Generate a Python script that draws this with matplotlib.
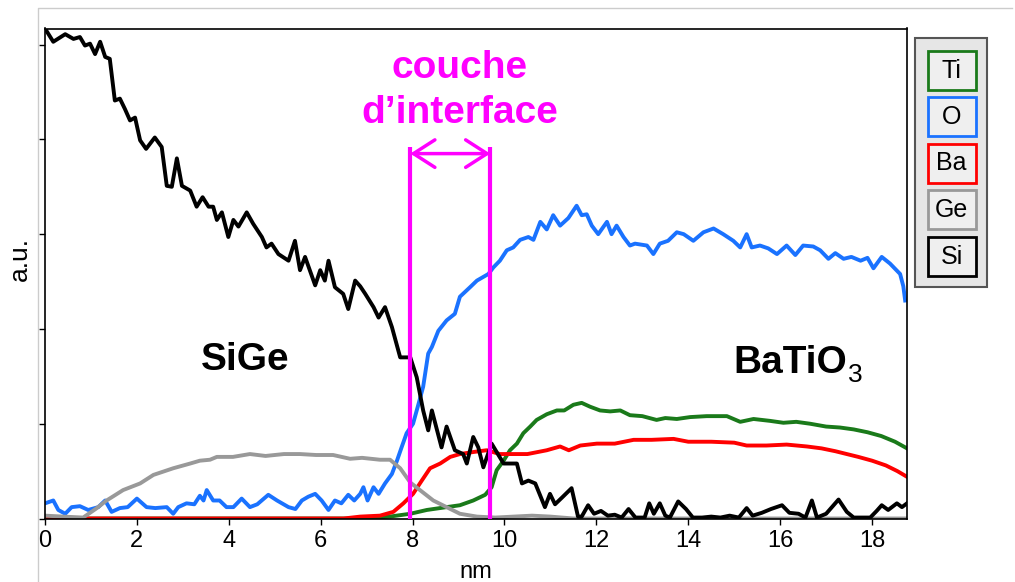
import matplotlib
matplotlib.use("Agg")
import matplotlib.pyplot as plt
from matplotlib.patches import Rectangle
from matplotlib.lines import Line2D

plt.rcParams['font.family'] = ['Liberation Sans', 'DejaVu Sans']

W, H = 1015, 582

# --- data (nm, a.u.) ---
si_x = [0.0, 0.18, 0.44, 0.62, 0.76, 0.87, 0.98, 1.09, 1.20, 1.31, 1.41, 1.52, 1.63, 1.74, 1.85,
        1.96, 2.07, 2.20, 2.39, 2.54, 2.65, 2.76, 2.87, 2.98, 3.16, 3.30, 3.43, 3.56, 3.66, 3.74,
        3.85, 3.99, 4.10, 4.21, 4.39, 4.53, 4.72, 4.82, 4.93, 5.08, 5.30, 5.44, 5.55, 5.66, 5.88,
        5.99, 6.09, 6.17, 6.31, 6.49, 6.60, 6.75, 6.86, 6.97, 7.15, 7.26, 7.40, 7.55, 7.73, 7.95,
        8.09, 8.23, 8.34, 8.42, 8.63, 8.74, 8.92, 9.10, 9.18, 9.32, 9.43, 9.54, 9.72, 9.98, 10.27,
        10.38, 10.52, 10.67, 10.88, 10.99, 11.10, 11.25, 11.46, 11.60, 11.68, 11.82, 11.95, 12.10,
        12.25, 12.40, 12.55, 12.70, 12.85, 13.05, 13.15, 13.25, 13.38, 13.50, 13.60, 13.78, 13.95,
        14.10, 14.30, 14.50, 14.70, 14.90, 15.10, 15.27, 15.40, 15.60, 15.80, 16.04, 16.20, 16.40,
        16.55, 16.69, 16.80, 17.00, 17.27, 17.45, 17.60, 17.80, 17.96, 18.10, 18.21, 18.35, 18.54,
        18.65, 18.76]
si_y = [5.17, 5.03, 5.11, 5.06, 5.08, 4.99, 5.01, 4.90, 5.03, 4.87, 4.85, 4.41, 4.43, 4.32, 4.20,
        4.23, 3.99, 3.90, 4.02, 3.92, 3.51, 3.50, 3.80, 3.51, 3.46, 3.29, 3.39, 3.29, 3.29, 3.15,
        3.23, 2.97, 3.15, 3.08, 3.23, 3.11, 2.97, 2.86, 2.90, 2.79, 2.72, 2.93, 2.62, 2.76, 2.46,
        2.62, 2.51, 2.72, 2.44, 2.37, 2.21, 2.51, 2.45, 2.37, 2.23, 2.12, 2.23, 2.02, 1.70, 1.70,
        1.49, 1.14, 0.93, 1.14, 0.75, 0.97, 0.72, 0.68, 0.58, 0.86, 0.75, 0.54, 0.79, 0.58, 0.58,
        0.37, 0.40, 0.37, 0.12, 0.26, 0.15, 0.22, 0.32, 0.02, 0.02, 0.14, 0.05, 0.08,
        0.03, 0.04, 0.01, 0.10, 0.01, 0.01, 0.16, 0.05, 0.16, 0.03, 0.01, 0.18, 0.10,
        0.01, 0.01, 0.02, 0.01, 0.03, 0.01, 0.11, 0.03, 0.06, 0.10, 0.14, 0.06, 0.05,
        0.01, 0.19, 0.01, 0.05, 0.20, 0.07, 0.01, 0.01, 0.01, 0.08, 0.14, 0.09, 0.16,
        0.12, 0.16]

ge_x = [0.0, 0.40, 0.83, 1.10, 1.34, 1.70, 2.07, 2.36, 2.79, 3.16, 3.37, 3.59, 3.74, 4.09, 4.46,
        4.80, 5.20, 5.55, 5.90, 6.27, 6.64, 6.90, 7.29, 7.51, 7.73, 7.95, 8.16, 8.45, 8.74, 9.03,
        9.40, 9.80, 10.20, 10.60, 11.00, 11.50, 18.76]
ge_y = [0.03, 0.02, 0.01, 0.10, 0.19, 0.30, 0.37, 0.46, 0.53, 0.58, 0.61, 0.62, 0.65, 0.65, 0.68,
        0.66, 0.68, 0.68, 0.67, 0.67, 0.63, 0.64, 0.62, 0.62, 0.53, 0.38, 0.30, 0.19, 0.12, 0.05,
        0.02, 0.01, 0.02, 0.03, 0.02, 0.0, 0.0]

o_x = [0.0, 0.18, 0.29, 0.44, 0.58, 0.76, 0.94, 1.16, 1.31, 1.45, 1.63, 1.80, 2.00, 2.21, 2.40,
       2.65, 2.79, 2.90, 3.08, 3.25, 3.37, 3.45, 3.52, 3.66, 3.80, 3.95, 4.10, 4.28, 4.46, 4.62,
       4.86, 5.05, 5.30, 5.45, 5.59, 5.73, 5.88, 6.02, 6.17, 6.31, 6.45, 6.60, 6.73, 6.86, 6.93,
       7.02, 7.15, 7.26, 7.40, 7.55, 7.66, 7.76, 7.87, 8.01, 8.13, 8.23, 8.34, 8.42, 8.56, 8.74,
       8.92, 9.03, 9.25, 9.40, 9.65, 9.76, 9.90, 10.05, 10.19, 10.34, 10.52, 10.63, 10.78, 10.92,
       11.06, 11.21, 11.39, 11.57, 11.68, 11.79, 11.90, 12.04, 12.23, 12.33, 12.44, 12.59, 12.73,
       12.84, 13.10, 13.24, 13.38, 13.56, 13.75, 13.90, 14.11, 14.33, 14.55, 14.76, 14.98, 15.13,
       15.27, 15.38, 15.56, 15.74, 15.93, 16.14, 16.33, 16.50, 16.72, 16.87, 17.05, 17.20, 17.38,
       17.55, 17.75, 17.90, 18.03, 18.21, 18.39, 18.61, 18.68, 18.72]
o_y = [0.16, 0.19, 0.09, 0.05, 0.12, 0.13, 0.09, 0.12, 0.19, 0.07, 0.11, 0.12, 0.21, 0.12, 0.11,
       0.12, 0.05, 0.12, 0.16, 0.15, 0.24, 0.19, 0.30, 0.19, 0.19, 0.12, 0.12, 0.21, 0.12, 0.15,
       0.25, 0.19, 0.12, 0.10, 0.19, 0.23, 0.26, 0.19, 0.09, 0.19, 0.16, 0.25, 0.19, 0.26, 0.33,
       0.19, 0.33, 0.26, 0.37, 0.47, 0.61, 0.75, 0.90, 1.00, 1.21, 1.39, 1.74, 1.81, 1.98, 2.09,
       2.16, 2.34, 2.44, 2.51, 2.58, 2.65, 2.72, 2.83, 2.86, 2.94, 2.97, 2.94, 3.13, 3.05,
       3.20, 3.09, 3.17, 3.30, 3.20, 3.21, 3.09, 3.00, 3.13, 3.00, 3.09, 2.97, 2.88,
       2.90, 2.88, 2.79, 2.90, 2.93, 3.02, 3.00, 2.93, 3.02, 3.06, 3.00, 2.93, 2.86,
       3.00, 2.86, 2.88, 2.85, 2.79, 2.88, 2.78, 2.88, 2.87, 2.83, 2.74, 2.80, 2.74,
       2.76, 2.72, 2.75, 2.64, 2.76, 2.69, 2.58, 2.45, 2.30]

ti_x = [0.0, 7.0, 7.5, 7.95, 8.31, 8.74, 9.03, 9.32, 9.58, 9.72, 9.83, 9.98, 10.12, 10.27, 10.41,
        10.56, 10.70, 10.92, 11.14, 11.30, 11.50, 11.68, 11.86, 12.08, 12.30, 12.52, 12.73, 13.00,
        13.31, 13.50, 13.75, 14.04, 14.40, 14.84, 15.13, 15.42, 15.78, 16.07, 16.35, 16.65, 17.00,
        17.30, 17.60, 17.90, 18.20, 18.50, 18.76]
ti_y = [0.0, 0.0, 0.02, 0.05, 0.09, 0.12, 0.14, 0.19, 0.25, 0.33, 0.51, 0.61, 0.72, 0.79, 0.90,
        0.97, 1.04, 1.10, 1.14, 1.14, 1.20, 1.22, 1.18, 1.14, 1.13, 1.14, 1.09, 1.08,
        1.04, 1.06, 1.05, 1.07, 1.08, 1.08, 1.02, 1.05, 1.03, 1.01, 1.02, 1.00, 0.97,
        0.96, 0.94, 0.91, 0.87, 0.81, 0.74]

ba_x = [0.0, 6.5, 6.86, 7.29, 7.58, 7.80, 8.01, 8.20, 8.38, 8.60, 8.82, 9.03, 9.30, 9.61, 9.90,
        10.20, 10.50, 10.92, 11.21, 11.40, 11.65, 12.01, 12.40, 12.81, 13.20, 13.68, 14.00, 14.50,
        15.00, 15.27, 15.70, 16.14, 16.58, 16.90, 17.20, 17.45, 17.70, 18.00, 18.30, 18.55, 18.76]
ba_y = [0.0, 0.0, 0.02, 0.03, 0.07, 0.16, 0.26, 0.40, 0.53, 0.58, 0.65, 0.68, 0.70, 0.72, 0.68,
        0.68, 0.68, 0.72, 0.76, 0.72, 0.77, 0.79, 0.79, 0.83, 0.83, 0.84, 0.81, 0.81,
        0.80, 0.77, 0.77, 0.78, 0.76, 0.74, 0.71, 0.68, 0.65, 0.61, 0.56, 0.50, 0.44]

series = [("Ti", ti_x, ti_y, "#1a7a1a"),
          ("O", o_x, o_y, "#1a72ff"),
          ("Ba", ba_x, ba_y, "#ff0000"),
          ("Ge", ge_x, ge_y, "#999999"),
          ("Si", si_x, si_y, "#000000")]

layer_left, layer_right = 7.95, 9.69
layer_top, arrow_y = 3.92, 3.85
magenta = "#ff00ff"

fig = plt.figure(figsize=(W / 100, H / 100), dpi=100)
ax = fig.add_axes([45 / W, 1 - 518.5 / H, 862 / W, 490 / H])

# drawing order: Si on top
for name, xs, ys, col in series:
    ax.plot(xs, ys, color=col, lw=2.8, solid_joinstyle='round')

ax.vlines([layer_left, layer_right], 0, layer_top, color=magenta, lw=3, zorder=5)
ax.annotate('', xy=(layer_right, arrow_y), xytext=(layer_left, arrow_y),
            arrowprops=dict(arrowstyle='<->,head_length=0.7,head_width=0.45',
                            color=magenta, lw=2.5, mutation_scale=22,
                            shrinkA=0, shrinkB=0), zorder=5)

label_x = (layer_left + layer_right) / 2 + 0.2
ax.text(label_x, 4.65, "couche", color=magenta,
        fontsize=28, fontweight='bold', ha='center', va='baseline')
ax.text(label_x, 4.17, "d\u2019interface", color=magenta,
        fontsize=28, fontweight='bold', ha='center', va='baseline')

ax.text(4.35, 1.67, "SiGe", fontsize=28, fontweight='bold', ha='center', va='center')
bt = ax.text(14.98, 1.53, "BaTiO", fontsize=28, fontweight='bold',
             ha='left', va='baseline')
ax.annotate("3", xy=(1, 0), xycoords=bt, xytext=(1, 5), textcoords='offset points',
            fontsize=19, ha='left', va='center')

ax.set_xlim(0, 18.76)
ax.set_ylim(0, 5.17)
ax.set_xticks(range(0, 19, 2))
ax.set_yticks(range(0, 6))
ax.set_yticklabels([])
ax.tick_params(direction='out', length=4, width=1, labelsize=17, pad=4)
for s in ax.spines.values():
    s.set_linewidth(1.2)

ax.set_xlabel("nm", fontsize=17)
ax.xaxis.set_label_coords(0.5, -0.11)
ax.xaxis.label.set_va('center')
ax.set_ylabel("a.u.", fontsize=19)
ax.yaxis.set_label_coords(-0.029, 0.53)
ax.yaxis.label.set_va('center')


def fx(x):
    return x / W


def fy(y):
    return 1 - y / H


# faint outer frame
fig.add_artist(Line2D([fx(38), fx(38), fx(1012)], [fy(590), fy(8), fy(8)],
                      color="#cccccc", lw=1))

# legend panel
fig.add_artist(Rectangle((fx(915), fy(287)), (987 - 915) / W, (287 - 38) / H,
                         facecolor="#e6e6e6", edgecolor="#555555", lw=1.5))
box_tops = [51, 97, 143.5, 190, 237]
for (name, xs, ys, col), top in zip(series, box_tops):
    fig.add_artist(Rectangle((fx(927.5), fy(top + 39)), 48.5 / W, 39 / H,
                             facecolor="#efefef", edgecolor=col, lw=2))
    fig.text(fx(951.5), fy(top + 19.5), name, fontsize=18, ha='center', va='center')

fig.savefig("out.png", dpi=100)
